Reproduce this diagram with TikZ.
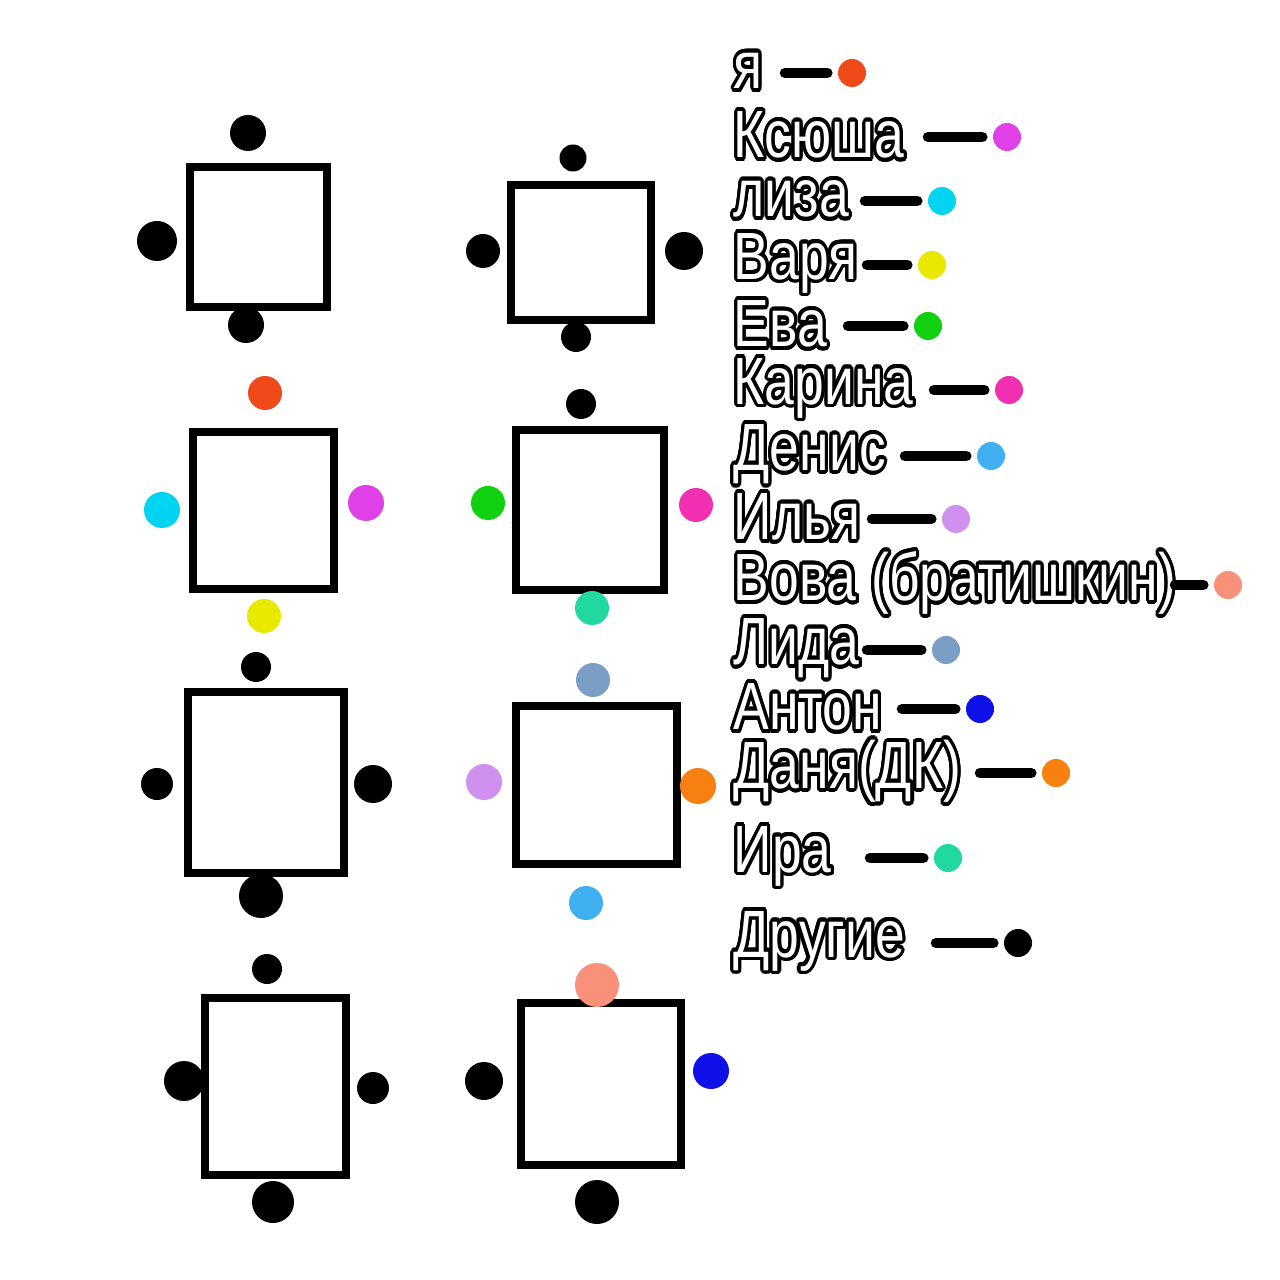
\documentclass[tikz,border=0pt]{standalone}
\usepackage{fontspec}
\setmainfont{Liberation Sans}
\usepackage{graphicx}
\usepackage{contour}
\contourlength{1.1pt}
\contournumber{24}
\definecolor{cme}{HTML}{F04A1A}
\definecolor{cksu}{HTML}{E040E8}
\definecolor{cliz}{HTML}{00D4F0}
\definecolor{cvar}{HTML}{E8E800}
\definecolor{ceva}{HTML}{10D010}
\definecolor{ckar}{HTML}{F030B0}
\definecolor{cden}{HTML}{40B0F0}
\definecolor{cily}{HTML}{D090F0}
\definecolor{cvov}{HTML}{F8907A}
\definecolor{clid}{HTML}{7A9EC4}
\definecolor{cant}{HTML}{1010E8}
\definecolor{cdan}{HTML}{F88010}
\definecolor{cira}{HTML}{20D8A0}
\tikzset{
  tbl/.style={draw,line width=2.4pt},
  seat/.style={circle,fill=#1,inner sep=0pt},
  legendtxt/.style={anchor=west,inner sep=0pt,font=\fontsize{19}{19}\selectfont},
  dashline/.style={line width=3pt,line cap=round}
}
\newcommand{\outl}[1]{\scalebox{0.8}[1]{\contour{black}{\textcolor{white}{#1}}}}
\begin{document}
\begin{tikzpicture}[x=0.01cm,y=-0.01cm]
	\useasboundingbox (0,0) rectangle (1280,1280);
	%tables----------------------------
	\draw[tbl] (190,167) rectangle (327,307); %t1
	\draw[tbl] (511,185) rectangle (651,320); %t2
	\draw[tbl] (193,432) rectangle (334,589); %t3
	\draw[tbl] (516,430) rectangle (664,590); %t4
	\draw[tbl] (188,692) rectangle (344,873); %t5
	\draw[tbl] (516,706) rectangle (677,864); %t6
	\draw[tbl] (205,998) rectangle (346,1175); %t7
	\draw[tbl] (521,1003) rectangle (681,1165); %t8
	%seats------------------------------
	\foreach \x/\y/\r/\c in {248/133/36/black,157/241/40/black,246/325/36/black,
	  573/158/27/black,483/251/34/black,684/251/38/black,576/337/30/black,
	  265/393/34/cme,162/510/36/cliz,366/503/36/cksu,264/616/34/cvar,
	  581/404/30/black,488/503/34/ceva,696/505/34/ckar,592/608/34/cira,
	  256/667/30/black,157/784/32/black,373/784/38/black,261/896/44/black,
	  593/680/34/clid,484/782/36/cily,698/786/36/cdan,586/903/34/cden,
	  267/969/30/black,184/1081/40/black,373/1088/32/black,273/1202/42/black,
	  597/985/44/cvov,484/1081/38/black,711/1071/36/cant,597/1202/44/black}
	  \node[seat=\c,minimum size=\r*0.01cm] at (\x,\y) {};
	%legend-----------------------------
	\foreach \t/\y/\dx/\xd/\c [count=\i] in {я/73/785/852/cme,Ксюша/137/928/1007/cksu,
	  лиза/201/865/942/cliz,Варя/265/867/932/cvar,Ева/326/848/928/ceva,
	  Карина/390/934/1009/ckar,Денис/456/905/991/cden,Илья/519/872/956/cily,
	  Вова (братишкин)/585/1175/1228/cvov,Лида/650/867/946/clid,
	  Антон/709/902/980/cant,Даня(ДК)/773/980/1056/cdan,Ира/858/870/948/cira,
	  Другие/943/936/1018/black}{
	  \node[legendtxt] (n\i) at (733,\y) {\outl{\t}};
	  \node[seat=\c,minimum size=0.28cm] (d\i) at (\xd,\y) {};
	  \coordinate (s\i) at (\dx,\y);
	  \draw[dashline] (s\i) -- ([xshift=-0.1cm]d\i.west);
	}
\end{tikzpicture}
\end{document}
